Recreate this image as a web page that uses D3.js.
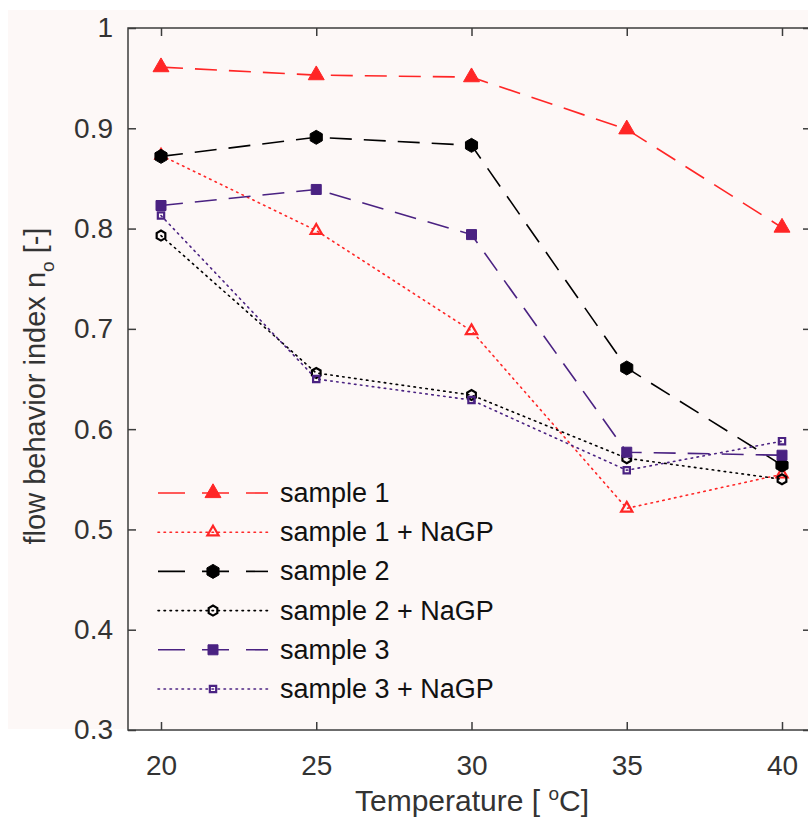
<!DOCTYPE html>
<html>
<head>
<meta charset="utf-8">
<script src="https://cdn.jsdelivr.net/npm/d3@7"></script>
<style>
  body { margin: 0; background: #ffffff; }
  text { font-family: "Liberation Sans", Arial, sans-serif; }
</style>
</head>
<body>
<script>
// Données
const temperatures = [20, 25, 30, 35, 40]
const xTicks = [20, 25, 30, 35, 40]
const yTicks = [0.3, 0.4, 0.5, 0.6, 0.7, 0.8, 0.9, 1]

const sample1 = [0.961, 0.953, 0.951, 0.899, 0.801]
const sample1NaGP = [0.873, 0.798, 0.698, 0.521, 0.555]
const sample2 = [0.872, 0.891, 0.883, 0.661, 0.564]
const sample2NaGP = [0.793, 0.656, 0.634, 0.571, 0.550]
const sample3 = [0.823, 0.839, 0.794, 0.577, 0.574]
const sample3NaGP = [0.813, 0.650, 0.629, 0.559, 0.588]

const seriesNames = ['sample 1', 'sample 1 + NaGP', 'sample 2', 'sample 2 + NaGP', 'sample 3', 'sample 3 + NaGP']

const red = '#ff2626', black = '#000000', purple = '#4a2282'

const series = [
    { name: seriesNames[0], values: sample1, color: red, dash: '22,12', marker: 'triangle', filled: true },
    { name: seriesNames[1], values: sample1NaGP, color: red, dash: '1.5,4.5', marker: 'triangle', filled: false },
    { name: seriesNames[2], values: sample2, color: black, dash: '22,12', marker: 'hexagon', filled: true },
    { name: seriesNames[3], values: sample2NaGP, color: black, dash: '1.5,4.5', marker: 'hexagon', filled: false },
    { name: seriesNames[4], values: sample3, color: purple, dash: '22,12', marker: 'square', filled: true },
    { name: seriesNames[5], values: sample3NaGP, color: purple, dash: '1.5,4.5', marker: 'square', filled: false }
]

const width = 808, height = 824
const box = { left: 128, top: 28, right: 811, bottom: 730 }

const svg = d3.select('body').append('svg')
    .attr('width', width)
    .attr('height', height)

// fond rosé
svg.append('rect')
    .attr('x', 8).attr('y', 10)
    .attr('width', width - 8).attr('height', 719)
    .attr('fill', '#fdf8f7')

const x = d3.scaleLinear().domain([20, 40]).range([161, 782])
const y = d3.scaleLinear().domain([0.3, 1]).range([box.bottom, box.top])

const axisColor = '#3c3c3c'

// Axes (boîte)
svg.append('rect')
    .attr('x', box.left).attr('y', box.top)
    .attr('width', box.right - box.left).attr('height', box.bottom - box.top)
    .attr('fill', 'none')
    .attr('stroke', axisColor)
    .attr('stroke-width', 1.5)

// Axe X en bas
const xAxis = svg.append('g')
    .attr('transform', `translate(0, ${box.bottom})`)
    .call(d3.axisBottom(x).tickValues(xTicks).tickSizeInner(-8).tickSizeOuter(0).tickPadding(25))
xAxis.select('.domain').remove()
xAxis.selectAll('line').attr('stroke', axisColor).attr('stroke-width', 1.5)
xAxis.selectAll('text').attr('font-size', 28).attr('fill', '#333')

// Ticks en haut
svg.append('g')
    .attr('transform', `translate(0, ${box.top})`)
    .call(d3.axisTop(x).tickValues(xTicks).tickSizeInner(-8).tickSizeOuter(0).tickFormat(''))
    .call(g => g.select('.domain').remove())
    .selectAll('line').attr('stroke', axisColor).attr('stroke-width', 1.5)

// Axe Y à gauche
const yAxis = svg.append('g')
    .attr('transform', `translate(${box.left}, 0)`)
    .call(d3.axisLeft(y).tickValues(yTicks).tickSizeInner(-8).tickSizeOuter(0).tickPadding(15)
        .tickFormat(d => d3.format('~g')(d)))
yAxis.select('.domain').remove()
yAxis.selectAll('line').attr('stroke', axisColor).attr('stroke-width', 1.5)
yAxis.selectAll('text').attr('font-size', 28).attr('fill', '#333')

// Ticks à droite
svg.append('g')
    .attr('transform', `translate(${box.right}, 0)`)
    .call(d3.axisRight(y).tickValues(yTicks).tickSizeInner(-8).tickSizeOuter(0).tickFormat(''))
    .call(g => g.select('.domain').remove())
    .selectAll('line').attr('stroke', axisColor).attr('stroke-width', 1.5)

// Titres des axes
svg.append('text')
    .attr('x', 472).attr('y', 811)
    .attr('text-anchor', 'middle')
    .attr('font-size', 30)
    .attr('fill', '#333')
    .html('Temperature [ <tspan font-size="19" dy="-11">o</tspan><tspan dy="11">C]</tspan>')

svg.append('text')
    .attr('transform', 'translate(45, 386) rotate(-90)')
    .attr('text-anchor', 'middle')
    .attr('font-size', 29)
    .attr('fill', '#333')
    .html('flow behavior index n<tspan font-size="19" dy="9">o</tspan><tspan dy="-9"> [-]</tspan>')

// Symboles
const symbolPath = (marker, filled) => {
    if (marker === 'triangle') {
        return d3.symbol().type(d3.symbolTriangle).size(filled ? 110 : 55)()
    }
    if (marker === 'square') {
        return d3.symbol().type(d3.symbolSquare).size(filled ? 100 : 40)()
    }
    // hexagone
    const r = filled ? 7 : 5
    const pts = d3.range(6).map(i => {
        const a = Math.PI / 6 + i * Math.PI / 3
        return [r * Math.cos(a), r * Math.sin(a)]
    })
    return 'M' + pts.join('L') + 'Z'
}

const drawMarker = (g, s, cx, cy) => {
    g.append('path')
        .attr('d', symbolPath(s.marker, s.filled))
        .attr('transform', `translate(${cx}, ${cy})`)
        .attr('fill', s.filled ? s.color : 'none')
        .attr('stroke', s.color)
        .attr('stroke-width', s.filled ? 1 : 2.2)
}

const line = d3.line()
    .x((d, i) => x(temperatures[i]))
    .y(d => y(d))

const plot = svg.append('g')

series.forEach(s => {
    plot.append('path')
        .datum(s.values)
        .attr('d', line)
        .attr('fill', 'none')
        .attr('stroke', s.color)
        .attr('stroke-width', 1.6)
        .attr('stroke-dasharray', s.dash)
        .attr('stroke-linecap', s.dash.startsWith('1.5') ? 'round' : 'butt')
    s.values.forEach((v, i) => drawMarker(plot, s, x(temperatures[i]), y(v)))
})

// Légende
const legend = svg.append('g')
const legendY0 = 493, legendStep = 39.2
series.forEach((s, i) => {
    const ly = legendY0 + i * legendStep
    legend.append('line')
        .attr('x1', 158).attr('x2', 268)
        .attr('y1', ly).attr('y2', ly)
        .attr('stroke', s.color)
        .attr('stroke-width', 1.6)
        .attr('stroke-dasharray', s.dash.startsWith('1.5') ? '1.5,4.5' : '27,17')
        .attr('stroke-linecap', s.dash.startsWith('1.5') ? 'round' : 'butt')
    drawMarker(legend, s, 213, ly)
    legend.append('text')
        .attr('x', 280).attr('y', ly + 9)
        .attr('font-size', 27)
        .attr('fill', '#111')
        .text(s.name)
})
</script>
</body>
</html>
